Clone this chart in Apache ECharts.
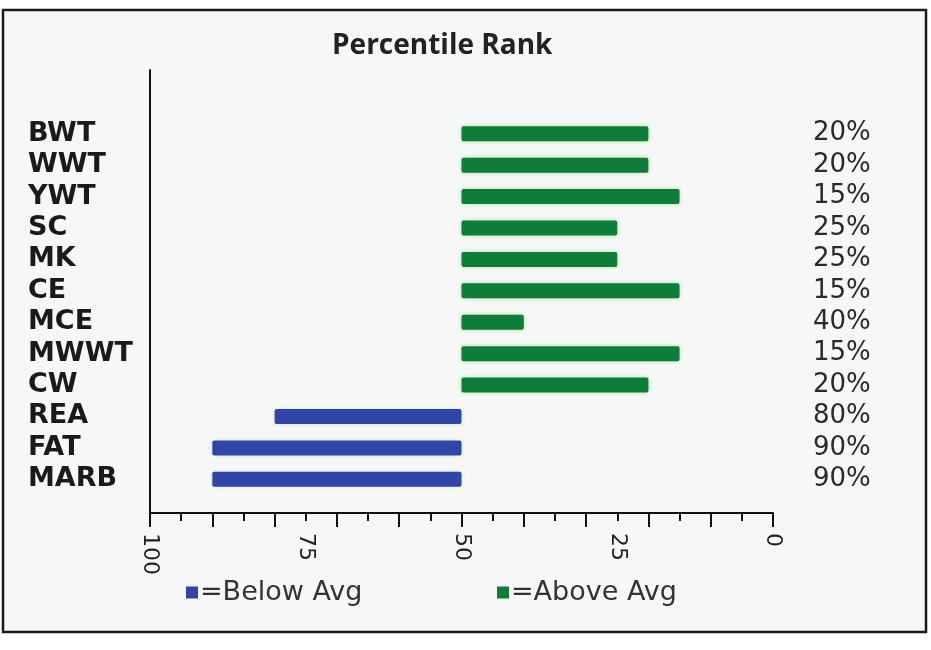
<!DOCTYPE html>
<html>
<head>
<meta charset="utf-8">
<script src="https://cdn.jsdelivr.net/npm/echarts@6/dist/echarts.min.js"></script>
<style>
html,body{margin:0;padding:0;background:#ffffff;}
#chart{width:931px;height:650px;}
</style>
</head>
<body>
<div id="chart"></div>
<script>
// ---- data ----
const categories = ['BWT','WWT','YWT','SC','MK','CE','MCE','MWWT','CW','REA','FAT','MARB'];
const percentiles = [20,20,15,25,25,15,40,15,20,80,90,90];
const average = 50;
const xTickLabels = [100,75,50,25,0];
const titleText = 'Percentile Rank';
const belowName = '=Below Avg';
const aboveName = '=Above Avg';

// derived series (stack: invisible base + visible segment)
const baseData = percentiles.map(v => Math.min(v, average));
const belowData = percentiles.map(v => v > average ? v - average : '-');
const aboveData = percentiles.map(v => v < average ? average - v : '-');
const pctLabels = percentiles.map(v => v + '%');

const GREEN = '#0e7d3a';
const BLUE = '#2f45a8';

const chart = echarts.init(document.getElementById('chart'), null, {renderer:'canvas'});
const L = 150, R = 931 - 773;
const AXIS_Y = 513;

chart.setOption({
  animation: false,
  backgroundColor: '#ffffff',
  graphic: [{
    type: 'rect', z: -10, silent: true,
    shape: {x: 3, y: 10, width: 923, height: 622},
    style: {fill: '#f6f8f8', stroke: '#1a1a1a', lineWidth: 2.5}
  }],
  title: {
    text: titleText, left: 327, top: 27,
    textStyle: {fontFamily: 'Open Sans', fontWeight: 'bold', fontSize: 28, color: '#222'}
  },
  legend: [{
    data: [belowName], left: 181, top: 574, icon: 'rect', itemWidth: 12, itemHeight: 12, itemGap: 0,
    textStyle: {fontFamily: 'DejaVu Sans', fontSize: 27, color: '#333', padding: [0,0,0,-3]}
  },{
    data: [aboveName], left: 492, top: 574, icon: 'rect', itemWidth: 12, itemHeight: 12, itemGap: 0,
    textStyle: {fontFamily: 'DejaVu Sans', fontSize: 27, color: '#333', padding: [0,0,0,-3]}
  }],
  grid: [
    {left: L, right: R, top: 70, bottom: 650 - AXIS_Y, containLabel: false},
    {left: L, right: R, top: 118, bottom: 650 - 495, containLabel: false}
  ],
  xAxis: [
    { // frame axis with ticks
      gridIndex: 0, type: 'value', min: 0, max: 100, interval: 10, inverse: true,
      axisLine: {show: true, onZero: false, lineStyle: {color: '#111', width: 2}},
      axisTick: {show: true, length: 14, inside: false, lineStyle: {color: '#111', width: 2}},
      minorTick: {show: true, splitNumber: 2, length: 8, lineStyle: {color: '#111', width: 2}},
      axisLabel: {show: false}, splitLine: {show: false}
    },
    { // labels only
      gridIndex: 0, type: 'value', min: 0, max: 100, interval: 25, inverse: true, position: 'bottom',
      axisLine: {show: false}, axisTick: {show: false}, splitLine: {show: false},
      axisLabel: {show: true, rotate: -90, margin: 20, fontFamily: 'DejaVu Sans', fontSize: 22, color: '#222',
        customValues: xTickLabels}
    },
    { // bar axis
      gridIndex: 1, type: 'value', min: 0, max: 100, inverse: true, show: false
    }
  ],
  yAxis: [
    {
      gridIndex: 0, type: 'value', min: 0, max: 1, position: 'left',
      axisLine: {show: true, onZero: false, lineStyle: {color: '#111', width: 2}},
      axisTick: {show: false}, axisLabel: {show: false}, splitLine: {show: false}
    },
    {
      gridIndex: 1, type: 'category', data: categories, inverse: true, position: 'left',
      axisLine: {show: false}, axisTick: {show: false}, splitLine: {show: false},
      axisLabel: {interval: 0, align: 'left', margin: 122, fontFamily: 'DejaVu Sans', fontWeight: 'bold', fontSize: 27, color: '#1a1a1a'}
    },
    {
      gridIndex: 1, type: 'category', data: pctLabels, inverse: true, position: 'right',
      axisLine: {show: false}, axisTick: {show: false}, splitLine: {show: false},
      axisLabel: {interval: 0, align: 'left', margin: 40, fontFamily: 'DejaVu Sans', fontSize: 26, color: '#2a2a2a'}
    }
  ],
  series: [
    {
      name: 'base', type: 'bar', stack: 'r', xAxisIndex: 2, yAxisIndex: 1,
      data: baseData, barWidth: 15, itemStyle: {color: 'rgba(0,0,0,0)'}, silent: true
    },
    {
      name: belowName, type: 'bar', stack: 'r', xAxisIndex: 2, yAxisIndex: 1,
      data: belowData, barWidth: 15,
      itemStyle: {color: BLUE, borderRadius: 2, shadowColor: 'rgba(200,220,150,0.6)', shadowBlur: 4}
    },
    {
      name: aboveName, type: 'bar', stack: 'r', xAxisIndex: 2, yAxisIndex: 1,
      data: aboveData, barWidth: 15,
      itemStyle: {color: GREEN, borderRadius: 2, shadowColor: 'rgba(150,220,120,0.8)', shadowBlur: 4}
    }
  ]
});
</script>
</body>
</html>
